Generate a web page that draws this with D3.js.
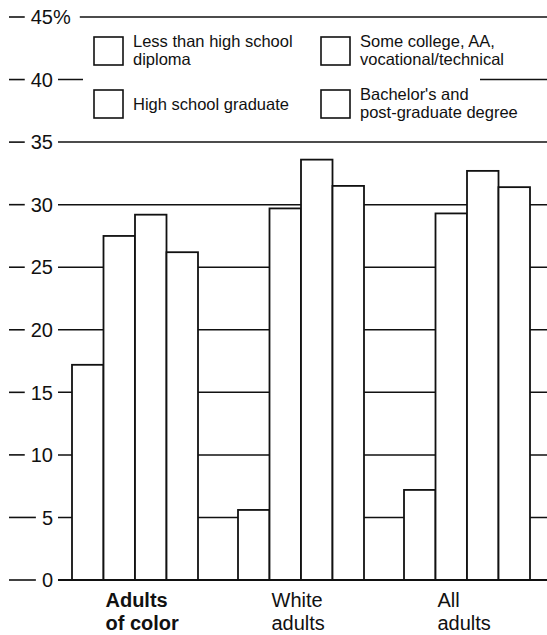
<!DOCTYPE html>
<html>
<head>
<meta charset="utf-8">
<script src="https://cdn.jsdelivr.net/npm/d3@7"></script>
<style>
  html, body { margin: 0; padding: 0; background: #fff; }
  svg { display: block; font-family: "Liberation Sans", Arial, Helvetica, sans-serif; }
</style>
</head>
<body>
<svg id="chart" width="547" height="635"></svg>
<script>
// ---- data ----
const groups = ["Adults of color", "White adults", "All adults"];
const groupLines = [["Adults", "of color"], ["White", "adults"], ["All", "adults"]];
const series = [
  "Less than high school diploma",
  "High school graduate",
  "Some college, AA, vocational/technical",
  "Bachelor's and post-graduate degree"
];
const legendLines = [
  ["Less than high school", "diploma"],
  ["High school graduate"],
  ["Some college, AA,", "vocational/technical"],
  ["Bachelor's and", "post-graduate degree"]
];
const lessThanHS   = [17.2, 5.6, 7.2];
const hsGraduate   = [27.5, 29.7, 29.3];
const someCollege  = [29.2, 33.6, 32.7];
const bachelors    = [26.2, 31.5, 31.4];
const tickValues = [0, 5, 10, 15, 20, 25, 30, 35, 40, 45];

const values = [lessThanHS, hsGraduate, someCollege, bachelors];
const ink = "#111";

// ---- layout ----
const W = 547, H = 635;
const svg = d3.select("#chart");

const y = d3.scaleLinear().domain([0, 45]).range([580, 17]);
const x0 = d3.scaleBand().domain(groups).range([72, 530]).paddingInner(0.241).paddingOuter(0);
const x1 = d3.scaleBand().domain(series).range([0, x0.bandwidth()]).padding(0);

// gridlines + tick labels
const gridStart = 58;
const ticks = svg.append("g").attr("class", "ticks");
tickValues.forEach(v => {
  const yy = y(v);
  const t = ticks.append("text")
    .attr("x", 53).attr("y", yy).attr("dy", "0.36em")
    .attr("text-anchor", "end")
    .attr("font-size", 20).attr("fill", ink)
    .text(v);
  const bb = t.node().getBBox();
  let lineStart = gridStart;
  if (v === 45) {
    const p = ticks.append("text")
      .attr("x", 53).attr("y", yy).attr("dy", "0.36em")
      .attr("font-size", 20).attr("fill", ink)
      .text("%");
    lineStart = 53 + p.node().getComputedTextLength() + 9;
  }
  // leading dash
  ticks.append("line")
    .attr("x1", 9).attr("x2", bb.x - 6)
    .attr("y1", yy).attr("y2", yy)
    .attr("stroke", ink).attr("stroke-width", 1.6);
  // gridline
  if (v !== 0) {
    ticks.append("line")
      .attr("x1", lineStart).attr("x2", W)
      .attr("y1", yy).attr("y2", yy)
      .attr("stroke", ink).attr("stroke-width", 1.5);
  }
});

// legend background & legend
const legend = svg.append("g").attr("class", "legend");
legend.append("rect")
  .attr("x", 83).attr("y", 24).attr("width", 397).attr("height", 102)
  .attr("fill", "#fff");

const legendPos = [
  { bx: 94, by: 37, baselines: [47, 65] },
  { bx: 94, by: 90, baselines: [110] },
  { bx: 321, by: 37, baselines: [47, 65] },
  { bx: 321, by: 90, baselines: [100, 118] }
];
series.forEach((s, i) => {
  const p = legendPos[i];
  legend.append("rect")
    .attr("x", p.bx).attr("y", p.by).attr("width", 29).attr("height", 28)
    .attr("fill", "#fff").attr("stroke", ink).attr("stroke-width", 1.6);
  legendLines[i].forEach((ln, j) => {
    legend.append("text")
      .attr("x", p.bx + 39).attr("y", p.baselines[j])
      .attr("font-size", 16.5).attr("fill", ink)
      .text(ln);
  });
});

// bars
const bars = svg.append("g").attr("class", "bars");
groups.forEach((g, gi) => {
  series.forEach((s, si) => {
    const v = values[si][gi];
    bars.append("rect")
      .attr("x", x0(g) + x1(s))
      .attr("y", y(v))
      .attr("width", x1.bandwidth())
      .attr("height", y(0) - y(v))
      .attr("fill", "#fff")
      .attr("stroke", ink)
      .attr("stroke-width", 1.8);
  });
});

// baseline
svg.append("line")
  .attr("x1", gridStart).attr("x2", W)
  .attr("y1", y(0)).attr("y2", y(0))
  .attr("stroke", ink).attr("stroke-width", 2);

// category labels
const cats = svg.append("g").attr("class", "cats");
groups.forEach((g, gi) => {
  const lx = x0(g) + x1(series[1]) + 2;
  const t = cats.append("text")
    .attr("x", lx).attr("y", 607)
    .attr("font-size", 20).attr("fill", ink)
    .attr("font-weight", gi === 0 ? "bold" : "normal");
  groupLines[gi].forEach((ln, j) => {
    t.append("tspan")
      .attr("x", lx)
      .attr("y", 607 + j * 23)
      .text(ln);
  });
});
</script>
</body>
</html>
